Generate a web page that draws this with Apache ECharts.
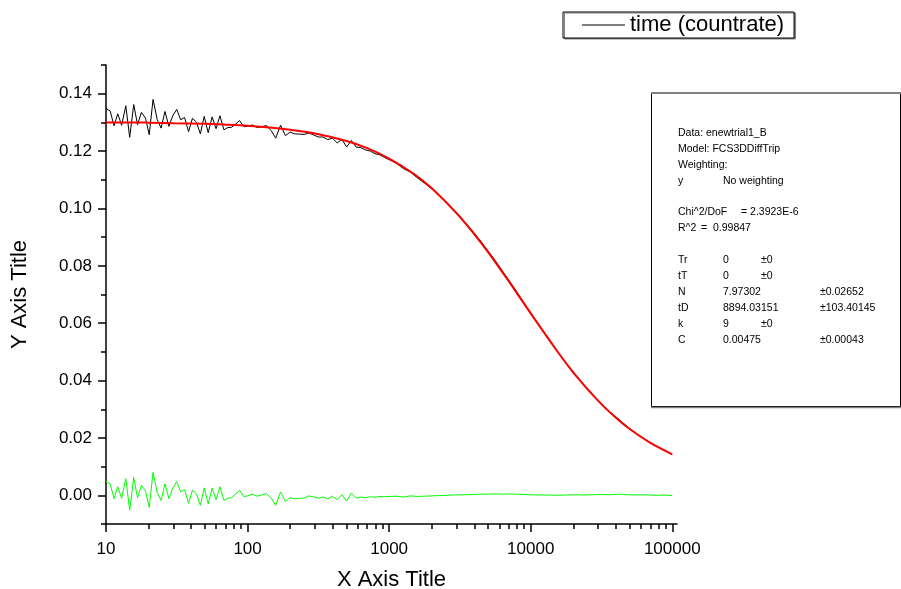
<!DOCTYPE html>
<html>
<head>
<meta charset="utf-8">
<script src="https://cdn.jsdelivr.net/npm/echarts@6/dist/echarts.min.js"></script>
<style>html,body{margin:0;padding:0;background:#fff;}#c{width:901px;height:589px;}</style>
</head>
<body>
<div id="c"></div>
<script>
// ---- data ----
const lagTime = [10,10.7,11.4,12.1,12.9,13.8,14.7,15.7,16.7,17.8,19.0,20.2,21.5,23.0,24.5,26.1,27.8,29.6,31.6,33.7,35.9,38.3,40.8,43.5,46.4,49.4,52.7,56.2,59.9,63.8,68.1,72.5,77.3,82.5,87.9,93.7,
100,108,117,126,136,147,158,171,185,200,215,233,251,271,293,316,341,369,398,430,464,501,541,584,631,681,736,794,858,926,
1000,1120,1260,1410,1580,1780,2000,2240,2510,2820,3160,3550,3980,4470,5010,5620,6310,7080,7940,8910,
10000,11500,13300,15400,17800,20500,23700,27400,31600,36500,42200,48700,56200,64900,75000,86600,100000];

const countrate = [0.1348,0.1340,0.1288,0.1330,0.1290,0.1358,0.1248,0.1362,0.1292,0.1335,0.1315,0.1257,0.1380,0.1310,0.1280,0.1338,0.1286,0.1323,0.1345,0.1309,0.1317,0.1268,0.1314,0.1301,0.1260,0.1321,0.1264,0.1319,0.1278,0.1323,0.1274,0.1282,0.1283,0.1295,0.1306,0.1285,
0.1286,0.1291,0.1282,0.1285,0.1289,0.1271,0.1245,0.1290,0.1254,0.1266,0.1260,0.1259,0.1258,0.1263,0.1256,0.1249,0.1249,0.1240,0.1245,0.1228,0.1241,0.1214,0.1237,0.1214,0.1212,0.1204,0.1200,0.1191,0.1187,0.1178,
0.1170,0.1158,0.1139,0.1127,0.1107,0.1088,0.1068,0.1047,0.1024,0.0999,0.0973,0.0944,0.0915,0.0884,0.0851,0.0818,0.0782,0.0747,0.0711,0.0673,
0.0636,0.0591,0.0547,0.0502,0.0461,0.0424,0.0385,0.0351,0.0320,0.0289,0.0264,0.0237,0.0214,0.0194,0.0174,0.0159,0.0142];

const residual = [0.0048,0.0040,-0.0012,0.0030,-0.0010,0.0058,-0.0052,0.0062,-0.0008,0.0035,0.0015,-0.0042,0.0080,0.0010,-0.0018,0.0040,-0.0012,0.0025,0.0048,0.0012,0.0020,-0.0028,0.0018,0.0005,-0.0035,0.0026,-0.0030,0.0025,-0.0015,0.0030,-0.0018,-0.0010,-0.0008,0.0005,0.0017,-0.0004,
-0.0002,0.0004,-0.0003,0.0001,0.0006,-0.0010,-0.0035,0.0012,-0.0022,-0.0008,-0.0012,-0.0011,-0.0009,-0.0002,-0.0006,-0.0010,-0.0006,-0.0012,-0.0003,-0.0015,0.0002,-0.0020,0.0008,-0.0010,-0.0006,-0.0008,-0.0005,-0.0007,-0.0004,-0.0005,
-0.0004,-0.0003,-0.0006,-0.0002,-0.0004,-0.0003,-0.0002,-0.0001,0.0000,0.0001,0.0002,0.0002,0.0003,0.0004,0.0004,0.0005,0.0004,0.0005,0.0004,0.0003,
0.0002,0.0001,0.0001,0.0000,0.0001,0.0002,0.0001,0.0002,0.0003,0.0002,0.0004,0.0002,0.0001,0.0002,0.0000,0.0001,-0.0001];

const fitTime = [10,15,20,30,50,70,100,150,200,300,500,700,1000,1500,2000,3000,4000,5000,7000,10000,15000,20000,30000,40000,50000,70000,100000];
const fitValue = [0.1300,0.1300,0.1299,0.1297,0.1295,0.1292,0.1288,0.1281,0.1274,0.1261,0.1235,0.1210,0.1174,0.1120,0.1070,0.0983,0.0910,0.0848,0.0746,0.0634,0.0510,0.0428,0.0329,0.0270,0.0231,0.0183,0.0143];

const xMajorTicks = [10,100,1000,10000,100000];
const xMinorTicks = [20,30,40,50,60,70,80,90,200,300,400,500,600,700,800,900,2000,3000,4000,5000,6000,7000,8000,9000,20000,30000,40000,50000,60000,70000,80000,90000];
const yMajorTicks = [0,0.02,0.04,0.06,0.08,0.10,0.12,0.14];
const yMinorTicks = [-0.01,0.01,0.03,0.05,0.07,0.09,0.11,0.13,0.15];

const legendName = 'time (countrate)';
const boxRows = [
  ['Data: enewtrial1_B'],
  ['Model: FCS3DDiffTrip'],
  ['Weighting:'],
  ['y','No weighting'],
  [],
  ['Chi^2/DoF','','= 2.3923E-6'],
  ['R^2','','','=  0.99847'],
  [],
  ['Tr','0','','','±0'],
  ['tT','0','','','±0'],
  ['N','7.97302','','','','±0.02652'],
  ['tD','8894.03151','','','','±103.40145'],
  ['k','9','','','±0'],
  ['C','0.00475','','','','±0.00043']
];

// ---- chart ----
const FONT = '"Liberation Sans", Arial, sans-serif';
const colX = [678, 723, 741, 701, 761, 820];
const graphics = [
  {type:'rect', shape:{x:651.5,y:93.5,width:249,height:313}, style:{fill:'#fff',stroke:'#000',lineWidth:1}, z:10},
  {type:'line', shape:{x1:651,y1:93,x2:901,y2:93}, style:{stroke:'#808080',lineWidth:2}, z:11},
  {type:'line', shape:{x1:651,y1:407.5,x2:901,y2:407.5}, style:{stroke:'#808080',lineWidth:1.5}, z:11}
];
boxRows.forEach((row, r) => {
  row.forEach((t, c) => {
    if (!t) return;
    graphics.push({type:'text', x: colX[c], y: 133 + 15.9*r, z: 12,
      style:{text:t, fontSize:10.5, fontFamily:FONT, fill:'#000', verticalAlign:'middle'}});
  });
});

const chart = echarts.init(document.getElementById('c'));
chart.setOption({
  animation: false,
  backgroundColor: '#fff',
  grid: {left:106, right:224, top:65, bottom:65, containLabel:false, outerBoundsMode:'none'},
  legend: {
    data: [{name: legendName, icon: 'rect'}],
    left: 563, top: 12,
    padding: [2, 10, 2, 19],
    itemWidth: 43, itemHeight: 1, itemGap: 5,
    borderColor: '#000', borderWidth: 1, backgroundColor: '#fff',
    shadowColor: '#808080', shadowOffsetX: 1.5, shadowOffsetY: 1, shadowBlur: 0,
    textStyle: {fontSize: 22, fontFamily: FONT, color: '#000'},
    itemStyle: {color: '#000'}
  },
  xAxis: [
    {type:'log', min:10, max:108000, logBase:10,
     name:'X Axis Title', nameLocation:'middle', nameGap:45,
     nameTextStyle:{fontSize:22, fontFamily:FONT, color:'#000'},
     axisLine:{onZero:false, lineStyle:{color:'#000', width:1.5}},
     axisTick:{customValues:xMajorTicks, length:8, lineStyle:{color:'#000', width:1.5}},
     axisLabel:{customValues:xMajorTicks, formatter:v=>String(Math.round(v)), margin:17, fontSize:17, fontFamily:FONT, color:'#000'},
     splitLine:{show:false}},
    {type:'log', min:10, max:108000, logBase:10, position:'bottom',
     axisLine:{show:false, onZero:false},
     axisTick:{customValues:xMinorTicks, length:5, lineStyle:{color:'#000', width:1.5}},
     axisLabel:{show:false}, splitLine:{show:false}}
  ],
  yAxis: [
    {type:'value', min:-0.01, max:0.15,
     name:'Y Axis Title', nameLocation:'middle', nameGap:75,
     nameTextStyle:{fontSize:22, fontFamily:FONT, color:'#000'},
     axisLine:{show:true, onZero:false, lineStyle:{color:'#000', width:1.5}},
     axisTick:{show:true, customValues:yMajorTicks, length:8, lineStyle:{color:'#000', width:1.5}},
     axisLabel:{customValues:yMajorTicks, formatter:v=>v.toFixed(2), margin:14, fontSize:17, fontFamily:FONT, color:'#000'},
     splitLine:{show:false}},
    {type:'value', min:-0.01, max:0.15, position:'left',
     axisLine:{show:false, onZero:false},
     axisTick:{show:true, customValues:yMinorTicks, length:5, lineStyle:{color:'#000', width:1.5}},
     axisLabel:{show:false}, splitLine:{show:false}}
  ],
  series: [
    {name: legendName, type:'line', symbol:'none', data: lagTime.map((x,i)=>[x, countrate[i]]),
     lineStyle:{color:'#000', width:1}, itemStyle:{color:'#000'}, z:2},
    {name:'fit', type:'line', symbol:'none', smooth:0.3, data: fitTime.map((x,i)=>[x, fitValue[i]]),
     lineStyle:{color:'#ff0000', width:2}, itemStyle:{color:'#ff0000'}, z:3},
    {name:'residual', type:'line', symbol:'none', data: lagTime.map((x,i)=>[x, residual[i]]),
     lineStyle:{color:'#00ff00', width:1}, itemStyle:{color:'#00ff00'}, z:2}
  ],
  graphic: graphics
});
</script>
</body>
</html>
